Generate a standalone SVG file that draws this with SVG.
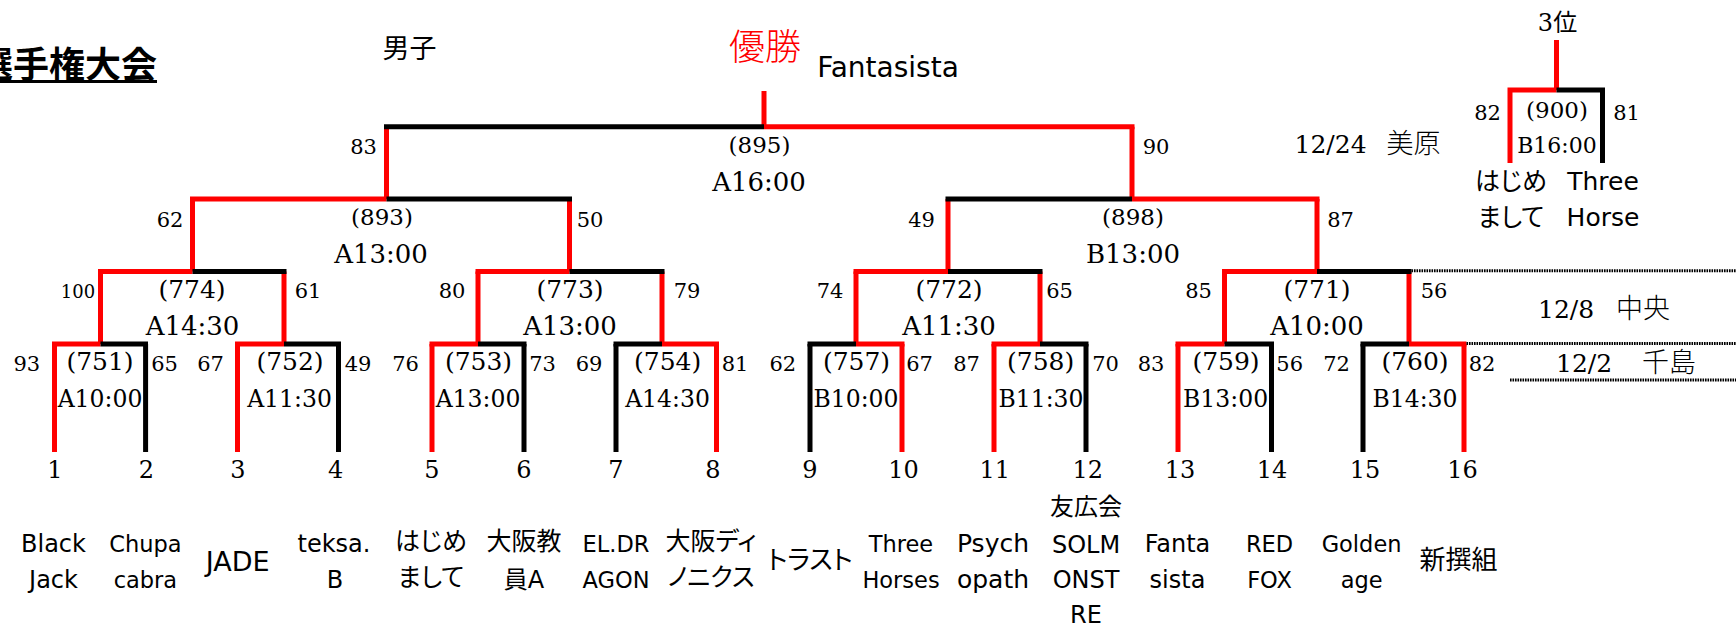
<svg xmlns="http://www.w3.org/2000/svg" width="1736" height="626" viewBox="0 0 1736 626">
<style>
.bg{fill:#fff}
.ln{fill:none;stroke-width:5;stroke-linecap:butt}
.r{stroke:#f00}
.k{stroke:#000}
.dot{fill:none;stroke:#000;stroke-width:3;stroke-dasharray:1.6 0.9}
text{fill:#000}
.sc{font-family:"DejaVu Serif",serif;font-size:21px;text-anchor:middle}
.sc1{font-family:"DejaVu Serif",serif;font-size:18px;text-anchor:middle}
.mn{font-family:"DejaVu Serif",serif;font-size:25px;text-anchor:middle}
.mns{font-family:"DejaVu Serif",serif;font-size:23px;text-anchor:middle}
.tm{font-family:"DejaVu Serif",serif;font-size:26px;text-anchor:middle}
.tms{font-family:"DejaVu Serif",serif;font-size:23.5px;text-anchor:middle}
.num{font-family:"DejaVu Serif",serif;font-size:24px;text-anchor:middle}
.nm{font-family:"DejaVu Sans","Noto Sans CJK JP",sans-serif;font-size:24px;text-anchor:middle;font-feature-settings:"palt"}
.nms{font-family:"DejaVu Sans","Noto Sans CJK JP",sans-serif;font-size:22.5px;text-anchor:middle;font-feature-settings:"palt"}
.nml{font-family:"DejaVu Sans","Noto Sans CJK JP",sans-serif;font-size:27px;text-anchor:middle}
.jp{font-family:"Noto Sans CJK JP",sans-serif;font-size:25px;text-anchor:middle;font-feature-settings:"palt"}
.dt{font-family:"DejaVu Serif",serif;font-size:25px}
.dj{font-family:"Noto Sans CJK JP",sans-serif;font-size:27px;font-weight:300}
</style>
<rect class="bg" x="0" y="0" width="1736" height="626"/>

<g id="header">
  <text x="157" y="78" style="font-family:'Noto Sans CJK JP',sans-serif;font-size:36px;font-weight:bold;text-anchor:end">選手権大会</text>
  <line x1="0" y1="81.5" x2="157" y2="81.5" stroke="#000" stroke-width="3"/>
  <text x="409.5" y="58" style="font-family:'Noto Sans CJK JP',sans-serif;font-size:27px;text-anchor:middle">男子</text>
  <text x="765" y="60" style="font-family:'Noto Sans CJK JP',sans-serif;font-size:36px;font-weight:300;text-anchor:middle;fill:#f00">優勝</text>
  <text x="888" y="77" style="font-family:'DejaVu Sans',sans-serif;font-size:28px;text-anchor:middle">Fantasista</text>
</g>

<g id="connectors">
  <path class="ln r" d="M54.5 452V344M237.5 452V344M432 452V344M716.5 452V344M902 452V344M994 452V344M1178 452V344M1464 452V344"/>
  <path class="ln k" d="M145.6 452V344M338.5 452V344M524 452V344M616 452V344M810 452V344M1086 452V344M1271.5 452V344M1363 452V344"/>
  <path class="ln r" d="M100.5 344V271.5M284 344V271.5M478 344V271.5M662 344V271.5M856 344V271.5M1040 344V271.5M1224.5 344V271.5M1409 344V271.5"/>
  <path class="ln r" d="M192.5 271.5V199M569.5 271.5V199M948 271.5V199M1317 271.5V199"/>
  <path class="ln r" d="M386.5 199V126.7M1132 199V126.7"/>
  <path class="ln r" d="M764 91V126.7"/>
  <path class="ln r" d="M52 344H100.5M235 344H284M429.5 344H478M662 344H719M856 344H904.5M991.5 344H1040M1175.5 344H1224.5M1409 344H1466.5"/>
  <path class="ln k" d="M100.5 344H148M284 344H341M478 344H526.5M613.5 344H662M807.5 344H856M1040 344H1088.5M1224.5 344H1274M1360.5 344H1409"/>
  <path class="ln r" d="M98 271.5H192.5M475.5 271.5H569.5M853.5 271.5H948M1222 271.5H1317"/>
  <path class="ln k" d="M192.5 271.5H286.5M569.5 271.5H664.5M948 271.5H1042.5M1317 271.5H1411.5"/>
  <path class="ln r" d="M190 199H386.5M1132 199H1319.5"/>
  <path class="ln k" d="M386.5 199H572M945.5 199H1132"/>
  <path class="ln k" d="M384 126.7H764"/>
  <path class="ln r" d="M764 126.7H1134.5"/>
  <path class="ln r" d="M1556.5 40V90M1510 163V90H1556.5"/>
  <path class="ln k" d="M1556.5 90H1602.5V163"/>
  <path class="dot" d="M1411.5 270.7H1736M1466.5 343.5H1736M1510 380H1736"/>
</g>

<g id="m895"><text class="mns" x="759.5" y="153">(895)</text><text class="tm" x="759" y="191">A16:00</text><text class="sc" x="363.6" y="154">83</text><text class="sc" x="1156" y="154">90</text></g>
<g id="m893"><text class="mns" x="382" y="225">(893)</text><text class="tm" x="381" y="263">A13:00</text><text class="sc" x="170" y="227">62</text><text class="sc" x="590" y="227">50</text></g>
<g id="m898"><text class="mns" x="1133" y="225">(898)</text><text class="tm" x="1133" y="263">B13:00</text><text class="sc" x="921.5" y="227">49</text><text class="sc" x="1340.5" y="227">87</text></g>

<g id="m774"><text class="mn" x="192" y="298">(774)</text><text class="tm" x="192.5" y="335">A14:30</text><text class="sc1" x="78" y="298">100</text><text class="sc" x="308" y="298">61</text></g>
<g id="m773"><text class="mn" x="570" y="298">(773)</text><text class="tm" x="570" y="335">A13:00</text><text class="sc" x="452" y="298">80</text><text class="sc" x="687" y="298">79</text></g>
<g id="m772"><text class="mn" x="949" y="298">(772)</text><text class="tm" x="949" y="335">A11:30</text><text class="sc" x="830" y="298">74</text><text class="sc" x="1059.5" y="298">65</text></g>
<g id="m771"><text class="mn" x="1317" y="298">(771)</text><text class="tm" x="1317" y="335">A10:00</text><text class="sc" x="1198.6" y="298">85</text><text class="sc" x="1434" y="298">56</text></g>

<g id="m751"><text class="mn" x="100" y="370">(751)</text><text class="tms" x="100" y="407">A10:00</text><text class="sc" x="26.8" y="371">93</text><text class="sc" x="164.6" y="371">65</text></g>
<g id="m752"><text class="mn" x="290" y="370">(752)</text><text class="tms" x="289.5" y="407">A11:30</text><text class="sc" x="210.6" y="371">67</text><text class="sc" x="358" y="371">49</text></g>
<g id="m753"><text class="mn" x="478.5" y="370">(753)</text><text class="tms" x="478" y="407">A13:00</text><text class="sc" x="405.6" y="371">76</text><text class="sc" x="542.6" y="371">73</text></g>
<g id="m754"><text class="mn" x="667.6" y="370">(754)</text><text class="tms" x="667.5" y="407">A14:30</text><text class="sc" x="589" y="371">69</text><text class="sc" x="735" y="371">81</text></g>
<g id="m757"><text class="mn" x="856.5" y="370">(757)</text><text class="tms" x="856" y="407">B10:00</text><text class="sc" x="782.8" y="371">62</text><text class="sc" x="919.6" y="371">67</text></g>
<g id="m758"><text class="mn" x="1040.6" y="370">(758)</text><text class="tms" x="1041" y="407">B11:30</text><text class="sc" x="966.5" y="371">87</text><text class="sc" x="1105.6" y="371">70</text></g>
<g id="m759"><text class="mn" x="1226" y="370">(759)</text><text class="tms" x="1225.6" y="407">B13:00</text><text class="sc" x="1151" y="371">83</text><text class="sc" x="1289.7" y="371">56</text></g>
<g id="m760"><text class="mn" x="1415" y="370">(760)</text><text class="tms" x="1415" y="407">B14:30</text><text class="sc" x="1336.5" y="371">72</text><text class="sc" x="1482" y="371">82</text></g>

<g id="m900">
  <text x="1557.5" y="31" style="font-family:'DejaVu Serif','Noto Sans CJK JP',serif;font-size:24px;text-anchor:middle">3位</text>
  <text class="mns" x="1557" y="118">(900)</text><text class="tms" x="1557" y="153" style="font-size:22px">B16:00</text>
  <text class="sc" x="1487.6" y="120">82</text><text class="sc" x="1626.5" y="120">81</text>
  <text class="jp" x="1511" y="190">はじめ</text><text class="jp" x="1511" y="226">まして</text>
  <text class="nm" x="1603" y="190" style="font-size:25px">Three</text><text class="nm" x="1603" y="226" style="font-size:25px">Horse</text>
</g>

<g id="dates">
  <text class="dt" x="1294.5" y="153">12/24</text><text class="dj" x="1386.6" y="153">美原</text>
  <text class="dt" x="1538" y="318">12/8</text><text class="dj" x="1616" y="318">中央</text>
  <text class="dt" x="1556" y="372">12/2</text><text class="dj" x="1642" y="372">千島</text>
</g>

<g id="t1"><text class="num" x="55" y="478">1</text><text class="nm" x="53.5" y="552">Black</text><text class="nm" x="53.5" y="588">Jack</text></g>
<g id="t2"><text class="num" x="146.5" y="478">2</text><text class="nms" x="145.4" y="552">Chupa</text><text class="nms" x="145.4" y="588">cabra</text></g>
<g id="t3"><text class="num" x="238" y="478">3</text><text class="nml" x="237.7" y="571">JADE</text></g>
<g id="t4"><text class="num" x="335.7" y="478">4</text><text class="nm" x="334" y="552">teksa.</text><text class="nm" x="335" y="588">B</text></g>
<g id="t5"><text class="num" x="432" y="478">5</text><text class="jp" x="431" y="550">はじめ</text><text class="jp" x="431" y="586">まして</text></g>
<g id="t6"><text class="num" x="524" y="478">6</text><text class="jp" x="524" y="550">大阪教</text><text class="nm" x="524" y="588">員A</text></g>
<g id="t7"><text class="num" x="616" y="478">7</text><text class="nms" x="616" y="552">EL.DR</text><text class="nms" x="616" y="588">AGON</text></g>
<g id="t8"><text class="num" x="713" y="478">8</text><text class="jp" x="711" y="550">大阪ディ</text><text class="jp" x="711" y="586">ノニクス</text></g>
<g id="t9"><text class="num" x="810" y="478">9</text><text class="jp" x="810" y="569" style="font-size:26px">トラスト</text></g>
<g id="t10"><text class="num" x="903.6" y="478">10</text><text class="nms" x="901" y="552">Three</text><text class="nms" x="901" y="588">Horses</text></g>
<g id="t11"><text class="num" x="994.7" y="478">11</text><text class="nm" x="993" y="552" style="font-size:25px">Psych</text><text class="nm" x="993" y="588" style="font-size:25px">opath</text></g>
<g id="t12"><text class="num" x="1087.8" y="478">12</text><text class="jp" x="1086" y="515" style="font-size:24px">友広会</text><text class="nm" x="1086" y="553">SOLM</text><text class="nm" x="1086" y="588">ONST</text><text class="nm" x="1086" y="623">RE</text></g>
<g id="t13"><text class="num" x="1180" y="478">13</text><text class="nm" x="1177.5" y="552">Fanta</text><text class="nm" x="1177.5" y="588">sista</text></g>
<g id="t14"><text class="num" x="1272" y="478">14</text><text class="nms" x="1269.5" y="552">RED</text><text class="nms" x="1269.5" y="588">FOX</text></g>
<g id="t15"><text class="num" x="1365" y="478">15</text><text class="nms" x="1361.6" y="552">Golden</text><text class="nms" x="1361.6" y="588">age</text></g>
<g id="t16"><text class="num" x="1462.5" y="478">16</text><text class="jp" x="1458.6" y="569" style="font-size:26px">新撰組</text></g>
</svg>
